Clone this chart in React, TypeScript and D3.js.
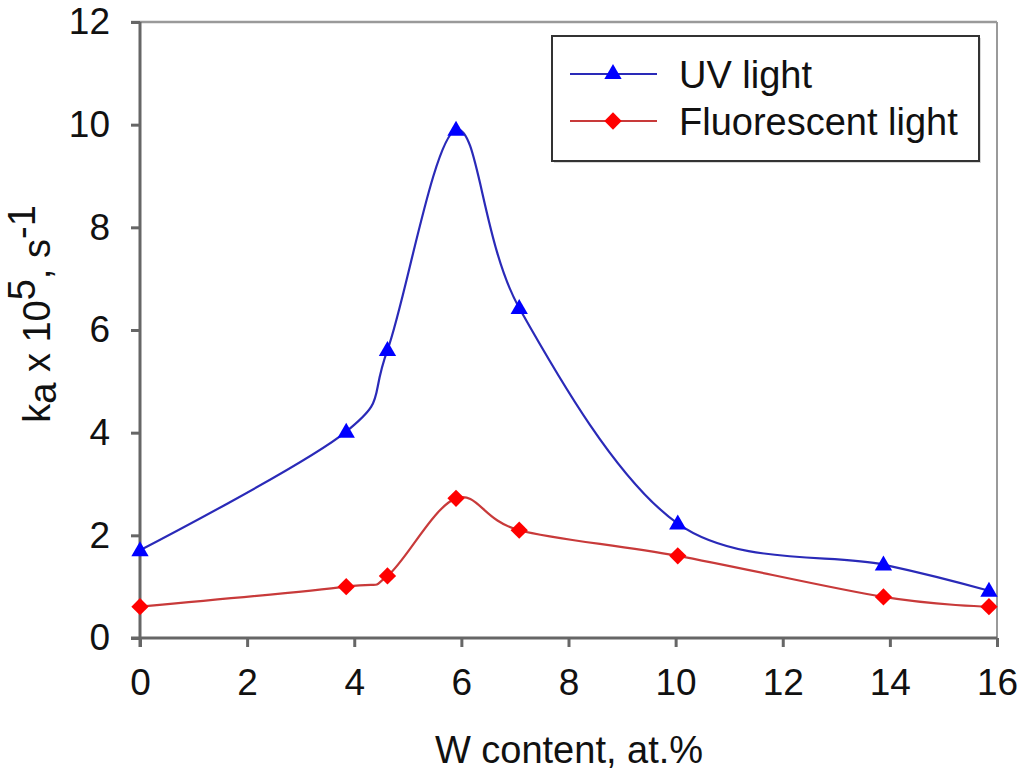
import React, { useEffect, useRef } from "react";
import * as d3 from "d3";

const wContent = [0, 3.85, 4.62, 5.9, 7.08, 10.04, 13.88, 15.85];
const uvValues = [1.71, 4.02, 5.61, 9.9, 6.43, 2.23, 1.43, 0.92];
const fluoValues = [0.61, 1.0, 1.21, 2.72, 2.1, 1.6, 0.8, 0.61];
const xTicks = [0, 2, 4, 6, 8, 10, 12, 14, 16];
const yTicks = [0, 2, 4, 6, 8, 10, 12];
const seriesNames = ["UV light", "Fluorescent light"];

const App: React.FC = () => {
  const svgRef = useRef<SVGSVGElement>(null);
  const width = 1024;
  const height = 775;

  useEffect(() => {
    if (!svgRef.current) return;
    const svg = d3.select(svgRef.current);
    svg.selectAll("*").remove();

    const margin = { top: 22, right: 27, bottom: 137, left: 140 };
    const innerWidth = width - margin.left - margin.right;
    const innerHeight = height - margin.top - margin.bottom;
    const font = "Arial, 'Liberation Sans', sans-serif";

    svg.append("rect").attr("width", width).attr("height", height).attr("fill", "#ffffff");

    const g = svg.append("g").attr("transform", `translate(${margin.left},${margin.top})`);

    const xScale = d3.scaleLinear().domain([0, 16]).range([0, innerWidth]);
    const yScale = d3.scaleLinear().domain([0, 12]).range([innerHeight, 0]);

    // frame: light top/right border
    g.append("line")
      .attr("x1", -9).attr("x2", innerWidth)
      .attr("y1", 0).attr("y2", 0)
      .attr("stroke", "#9a9a9a").attr("stroke-width", 2.5);
    g.append("line")
      .attr("x1", innerWidth).attr("x2", innerWidth)
      .attr("y1", 0).attr("y2", innerHeight)
      .attr("stroke", "#9a9a9a").attr("stroke-width", 2);

    const xAxis = g.append("g")
      .attr("transform", `translate(0,${innerHeight})`)
      .call(d3.axisBottom(xScale).tickValues(xTicks).tickSize(9).tickSizeOuter(0).tickPadding(22));
    xAxis.select(".domain").attr("stroke", "#666").attr("stroke-width", 3)
      .attr("d", `M-9,0H${innerWidth}`);
    xAxis.selectAll(".tick line").attr("stroke", "#666").attr("stroke-width", 3);
    xAxis.selectAll("text")
      .attr("fill", "#111")
      .style("font-family", font)
      .style("font-size", "37px");

    const yAxis = g.append("g")
      .call(d3.axisLeft(yScale).tickValues(yTicks).tickSize(9).tickSizeOuter(0).tickPadding(21));
    yAxis.select(".domain").attr("stroke", "#666").attr("stroke-width", 3)
      .attr("d", `M0,0V${innerHeight + 9}`);
    yAxis.selectAll(".tick line").attr("stroke", "#666").attr("stroke-width", 3);
    yAxis.selectAll("text")
      .attr("fill", "#111")
      .style("font-family", font)
      .style("font-size", "37px");

    const series = [
      { name: seriesNames[0], values: uvValues, line: "#2a2ab8", marker: "#0000ff", symbol: d3.symbolTriangle, size: 130, rot: 0, dy: 1 },
      { name: seriesNames[1], values: fluoValues, line: "#c83a3a", marker: "#ff0000", symbol: d3.symbolSquare, size: 150, rot: 45, dy: 0 },
    ];

    const line = d3.line<number>()
      .x((_, i) => xScale(wContent[i]))
      .y(d => yScale(d))
      .curve(d3.curveCardinal.tension(0));

    series.forEach(s => {
      g.append("path")
        .datum(s.values)
        .attr("d", line)
        .attr("fill", "none")
        .attr("stroke", s.line)
        .attr("stroke-width", 2.2);
      g.selectAll(null)
        .data(s.values)
        .join("path")
        .attr("transform", (d, i) => `translate(${xScale(wContent[i])},${yScale(d) + s.dy}) rotate(${s.rot})`)
        .attr("d", d3.symbol(s.symbol, s.size)())
        .attr("fill", s.marker);
    });

    // legend
    const legend = svg.append("g").attr("transform", "translate(552,36)");
    legend.append("rect")
      .attr("x", 2).attr("y", 2)
      .attr("width", 427).attr("height", 125)
      .attr("fill", "#d8d8d8");
    legend.append("rect")
      .attr("width", 427).attr("height", 125)
      .attr("fill", "#ffffff")
      .attr("stroke", "#333").attr("stroke-width", 2);
    series.forEach((s, i) => {
      const y = 38 + i * 47;
      legend.append("line")
        .attr("x1", 18).attr("x2", 105)
        .attr("y1", y).attr("y2", y)
        .attr("stroke", s.line).attr("stroke-width", 2);
      legend.append("path")
        .attr("transform", `translate(61,${y}) rotate(${s.rot})`)
        .attr("d", d3.symbol(s.symbol, s.size)())
        .attr("fill", s.marker);
      legend.append("text")
        .attr("x", 127).attr("y", y + 14)
        .attr("fill", "#111")
        .style("font-family", font)
        .style("font-size", "38px")
        .text(s.name);
    });

    // axis titles
    svg.append("text")
      .attr("x", 569).attr("y", 763)
      .attr("text-anchor", "middle")
      .attr("fill", "#111")
      .style("font-family", font)
      .style("font-size", "38px")
      .text("W content, at.%");

    const yTitle = svg.append("text")
      .attr("transform", "translate(50,314) rotate(-90)")
      .attr("text-anchor", "middle")
      .attr("fill", "#111")
      .style("font-family", font)
      .style("font-size", "38px");
    yTitle.append("tspan").text("k");
    yTitle.append("tspan").attr("dy", 6).text("a");
    yTitle.append("tspan").attr("dy", -6).text(" x 10");
    yTitle.append("tspan").attr("dy", -15).text("5");
    yTitle.append("tspan").attr("dy", 15).text(", s");
    yTitle.append("tspan").attr("dy", -15).text("-1");
  }, []);

  return (
    <div style={{ position: "absolute", left: 0, top: 0 }}>
      <svg ref={svgRef} width={width} height={height} style={{ display: "block" }} />
    </div>
  );
};

export default App;
